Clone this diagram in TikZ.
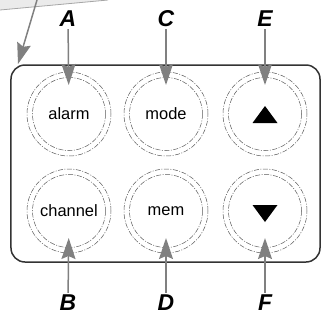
\documentclass[tikz,border=0pt]{standalone}
\usepackage{fontspec}
\setmainfont{Liberation Sans}
\usetikzlibrary{arrows.meta,calc}

\begin{document}
\begin{tikzpicture}[x=1bp, y=-1bp,
    btn/.style={circle, draw=black!65, line width=0.5bp, dash pattern=on 5bp off 1.5bp on 1bp off 1.5bp,
      minimum size=84bp, inner sep=0pt, font=\fontsize{16.5}{16.5}\selectfont},
    ring/.style={draw=black!65, line width=0.5bp, dash pattern=on 5bp off 1.5bp on 1bp off 1.5bp},
    tag/.style={inner sep=2bp, font=\fontsize{23}{23}\selectfont\bfseries\itshape},
    pointer/.style={draw=black!50, line width=1.5bp, -{Stealth[length=21bp, width=14bp, inset=3bp]}},
    panel/.style={draw=black!80, line width=1.5bp, rounded corners=14bp, minimum width=309bp, minimum height=197bp}]
    \useasboundingbox (0,0) rectangle (331,320);

    \fill[black!8] (0,0) -- (108,0) -- (0,10) -- cycle;
    \draw[black!35, line width=0.8bp] (0,10) -- (108,0);

    \node[panel] (panel) at (165.5,163.5) {};

    \node[btn] (alarm) at (69,114) {alarm};
    \node[btn] (mode) at (166,114) {mode};
    \node[btn] (up) at (265,114) {};
    \node[btn] (channel) at (69,211) {channel};
    \node[btn] (mem) at (166,211) {mem};
    \node[btn] (down) at (265,211) {};

    \foreach \b in {alarm,mode,up,channel,mem,down}
      \draw[ring] (\b.center) circle (36.5);

    \fill ($(up)+(-12.5,9)$) -- ++(25,0) -- ++(-12.5,-17) -- cycle;
    \fill ($(down)+(-12.5,-6)$) -- ++(25,0) -- ++(-12.5,17) -- cycle;

    \node[tag] (A) at (68,19) {A};
    \node[tag] (C) at (166,19) {C};
    \node[tag] (E) at (265,19) {E};
    \node[tag] (B) at (68,303) {B};
    \node[tag] (D) at (166,303) {D};
    \node[tag] (F) at (265,303) {F};

    \draw[pointer, shorten >=29bp] (A) -- (alarm.center);
    \draw[pointer, shorten >=29bp] (C) -- (mode.center);
    \draw[pointer, shorten >=29bp] (E) -- (up.center);
    \draw[pointer, shorten >=27bp] (B) -- (channel.center);
    \draw[pointer, shorten >=27bp] (D) -- (mem.center);
    \draw[pointer, shorten >=27bp] (F) -- (down.center);

    \coordinate (edge) at (37,0);
    \coordinate (hint) at (18,64);
    \draw[pointer] (edge) -- (hint);
\end{tikzpicture}
\end{document}
